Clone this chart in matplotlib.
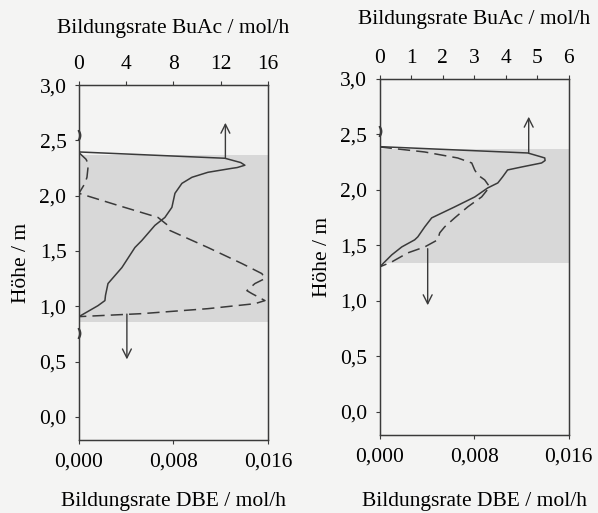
import matplotlib
matplotlib.use("Agg")
import matplotlib.pyplot as plt

plt.rcParams['font.family'] = ['Liberation Serif', 'DejaVu Serif']
plt.rcParams['font.size'] = 15.5

INK = '#3a3a3a'
GRAY = '#d8d8d8'
PAPER = '#f4f4f3'

# left column: solid curve (BuAc, top axis) and dashed curve (DBE, bottom axis)
left_h_buac = [2.396, 2.339, 2.30, 2.276, 2.255, 2.248, 2.212, 2.167, 2.112,
               2.022, 1.895, 1.804, 1.732, 1.596, 1.532, 1.351, 1.206, 1.10,
               1.052, 1.006, 0.907]
left_buac = [0.0, 12.36, 13.7, 14.05, 13.4, 12.95, 10.92, 9.57, 8.72,
             8.13, 7.87, 7.28, 6.43, 5.33, 4.74, 3.64, 2.46, 2.25,
             2.20, 1.61, 0.0]
left_h_dbe = [2.39, 2.33, 2.294, 2.248, 2.167, 2.112, 2.022, 1.913, 1.804,
              1.732, 1.686, 1.532, 1.387, 1.296, 1.251, 1.206, 1.142, 1.115,
              1.052, 1.024, 0.979, 0.934, 0.907]
left_dbe = [0.0, 0.0006, 0.00076, 0.00076, 0.00068, 0.00051, 0.0, 0.0033,
            0.00669, 0.00753, 0.0077, 0.01092, 0.0138, 0.01549, 0.01575,
            0.0149, 0.01422, 0.01465, 0.01575, 0.0149, 0.01092, 0.00533, 0.0]
left_zone = (0.86, 2.37)
left_buac_max = 16
left_buac_ticks = [0, 4, 8, 12, 16]

# right column
right_h_buac = [2.39, 2.333, 2.30, 2.288, 2.265, 2.243, 2.207, 2.18, 2.117,
                2.063, 2.018, 1.937, 1.847, 1.748, 1.667, 1.577, 1.55, 1.486,
                1.414, 1.306]
right_buac = [0.0, 4.70, 5.1, 5.24, 5.25, 5.14, 4.51, 4.06, 3.90,
              3.75, 3.43, 3.02, 2.38, 1.65, 1.43, 1.21, 1.11, 0.70,
              0.38, 0.0]
right_h_dbe = [2.387, 2.342, 2.288, 2.243, 2.18, 2.135, 2.09, 2.027, 1.937,
               1.847, 1.748, 1.667, 1.613, 1.55, 1.486, 1.432, 1.351, 1.306]
right_dbe = [0.0, 0.00381, 0.0066, 0.00779, 0.00804, 0.0083, 0.00889, 0.00931,
             0.00863, 0.00745, 0.00635, 0.0055, 0.00508, 0.00491, 0.00381,
             0.00237, 0.00102, 0.0]
right_zone = (1.34, 2.37)
right_buac_max = 6
right_buac_ticks = [0, 1, 2, 3, 4, 5, 6]

# arrows: (x, y_from, y_to)
left_arrow_up = (12.4, 2.34, 2.66)      # BuAc units
left_arrow_down = (0.00406, 0.93, 0.52)  # DBE units
right_arrow_up = (4.73, 2.33, 2.66)
right_arrow_down = (0.00406, 1.47, 0.96)

# small marks on the left spine
left_marks = [2.55, 0.76]
right_marks = [2.53]

y_ticks = [0.0, 0.5, 1.0, 1.5, 2.0, 2.5, 3.0]
y_labels = ['0,0', '0,5', '1,0', '1,5', '2,0', '2,5', '3,0']
dbe_ticks = [0.0, 0.008, 0.016]
dbe_labels = ['0,000', '0,008', '0,016']


def arrow(ax, x, y0, y1):
    ax.annotate('', xy=(x, y1), xytext=(x, y0),
                arrowprops=dict(arrowstyle='->', color=INK, lw=1.0,
                                mutation_scale=16, shrinkA=0, shrinkB=0))


def panel(rect, h_buac, buac, h_dbe, dbe, zone, buac_max, buac_ticks,
          up, down, marks, bottom_pad, top_pad):
    ax = fig.add_axes(rect)
    ax.set_facecolor('none')
    ax.axhspan(zone[0], zone[1], color=GRAY, lw=0, zorder=0)
    ax.plot(dbe, h_dbe, color=INK, lw=1.1, ls=(0, (8, 4)))
    ax.plot([0] * len(marks), marks, ls='none', marker='$)$',
            ms=7, color=INK, clip_on=False)
    ax.set_xlim(0, 0.016)
    ax.set_ylim(-0.21, 3.0)
    ax.set_xticks(dbe_ticks)
    ax.set_xticklabels(dbe_labels)
    ax.set_yticks(y_ticks)
    ax.set_yticklabels(y_labels)
    ax.set_ylabel('Höhe / m', labelpad=6)
    ax.set_xlabel('Bildungsrate DBE / mol/h', labelpad=bottom_pad)
    ax.tick_params(length=3, width=0.8, color=INK, pad=6)
    arrow(ax, *down)

    top = ax.twiny()
    top.plot(buac, h_buac, color=INK, lw=1.1)
    top.set_xlim(0, buac_max)
    top.set_xticks(buac_ticks)
    top.set_xlabel('Bildungsrate BuAc / mol/h', labelpad=top_pad)
    top.tick_params(length=3, width=0.8, color=INK, pad=5)
    arrow(top, *up)
    for a in (ax, top):
        for s in a.spines.values():
            s.set_color(INK)
            s.set_linewidth(0.9)
    return ax


fig = plt.figure(figsize=(5.98, 5.13), dpi=100, facecolor=PAPER)
panel([0.132, 0.142, 0.316, 0.692], left_h_buac, left_buac, left_h_dbe,
      left_dbe, left_zone, left_buac_max, left_buac_ticks,
      left_arrow_up, left_arrow_down, left_marks, 15, 16)
panel([0.635, 0.152, 0.316, 0.694], right_h_buac, right_buac, right_h_dbe,
      right_dbe, right_zone, right_buac_max, right_buac_ticks,
      right_arrow_up, right_arrow_down, right_marks, 18, 18)

fig.savefig('out.png', dpi=100, facecolor=PAPER)
